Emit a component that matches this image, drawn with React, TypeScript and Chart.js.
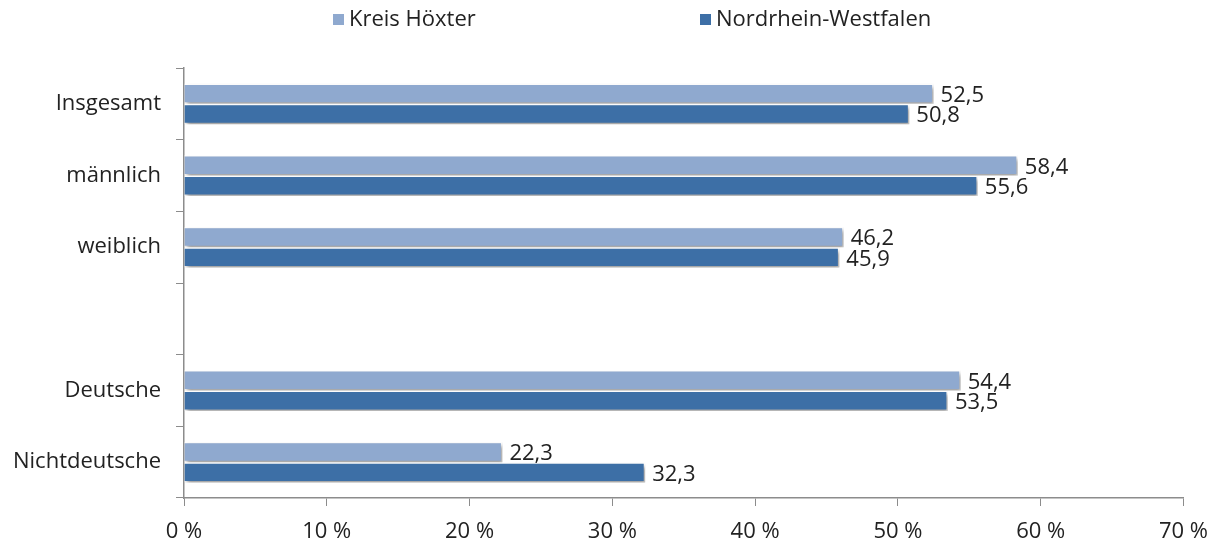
import React, { useEffect, useRef } from "react";
import { Chart, registerables } from "chart.js";

Chart.register(...registerables);

const categories = ["Insgesamt", "männlich", "weiblich", "", "Deutsche", "Nichtdeutsche"];
const kreisHoexter: (number | null)[] = [52.5, 58.4, 46.2, null, 54.4, 22.3];
const nrw: (number | null)[] = [50.8, 55.6, 45.9, null, 53.5, 32.3];
const seriesNames = ["Kreis Höxter", "Nordrhein-Westfalen"];
const xTicks = [0, 10, 20, 30, 40, 50, 60, 70];

const LIGHT = "#8FA9CF";
const DARK = "#3D6FA6";
const FONT = "'Open Sans', sans-serif";
const FS = 22;
const TEXT = "#222222";
const AXIS = "#8c8c8c";

export default function App() {
  const ref = useRef<HTMLCanvasElement | null>(null);

  useEffect(() => {
    if (!ref.current) return;

    const shadowPlugin = {
      id: "shadowAndLabels",
      beforeDatasetsDraw(chart: any) {
        const ctx = chart.ctx;
        ctx.save();
        ctx.shadowColor = "rgba(0,0,0,0.38)";
        ctx.shadowBlur = 4;
        ctx.shadowOffsetX = 2;
        ctx.shadowOffsetY = 3;
      },
      afterDatasetsDraw(chart: any) {
        const ctx = chart.ctx;
        ctx.restore();
        ctx.save();
        ctx.font = `${FS}px ${FONT}`;
        ctx.fillStyle = TEXT;
        ctx.textAlign = "left";
        ctx.textBaseline = "middle";
        chart.data.datasets.forEach((ds: any, di: number) => {
          const meta = chart.getDatasetMeta(di);
          meta.data.forEach((el: any, i: number) => {
            const v = ds.data[i];
            if (v === null || v === undefined) return;
            ctx.fillText(v.toFixed(1).replace(".", ","), el.x + 7, el.y + 2);
          });
        });
        ctx.restore();
      },
    };

    const legendPlugin = {
      id: "customLegend",
      afterDraw(chart: any) {
        const ctx = chart.ctx;
        ctx.save();
        ctx.font = `${FS}px ${FONT}`;
        ctx.fillStyle = TEXT;
        ctx.textBaseline = "middle";
        ctx.textAlign = "left";
        const items = [
          { x: 333, color: LIGHT, text: seriesNames[0] },
          { x: 700, color: DARK, text: seriesNames[1] },
        ];
        items.forEach((it) => {
          ctx.fillStyle = it.color;
          ctx.fillRect(it.x, 14, 11, 11);
          ctx.fillStyle = TEXT;
          ctx.fillText(it.text, it.x + 16, 20);
        });
        ctx.restore();
      },
    };

    const chart = new Chart(ref.current, {
      type: "bar",
      data: {
        labels: categories,
        datasets: [
          {
            label: seriesNames[0],
            data: kreisHoexter,
            backgroundColor: LIGHT,
            borderColor: "#ffffff",
            borderWidth: 1.5,
            categoryPercentage: 0.57,
            barPercentage: 1,
          },
          {
            label: seriesNames[1],
            data: nrw,
            backgroundColor: DARK,
            borderColor: "#ffffff",
            borderWidth: 1.5,
            categoryPercentage: 0.57,
            barPercentage: 1,
          },
        ],
      },
      options: {
        indexAxis: "y",
        animation: false,
        responsive: true,
        maintainAspectRatio: false,
        layout: { padding: { top: 68, right: 37, left: 0, bottom: 0 } },
        plugins: {
          legend: { display: false },
          tooltip: { enabled: false },
        },
        scales: {
          x: {
            min: 0,
            max: 70,
            afterBuildTicks(scale: any) {
              scale.ticks = xTicks.map((v) => ({ value: v }));
            },
            afterFit(scale: any) {
              scale.height = 46;
            },
            ticks: {
              callback: (v: any) => `${v} %`,
              font: { family: FONT, size: FS },
              color: TEXT,
              padding: 13,
              maxRotation: 0,
            },
            grid: {
              drawOnChartArea: false,
              drawTicks: true,
              tickLength: 8,
              color: AXIS,
            },
            border: { color: AXIS, width: 1.5 },
          },
          y: {
            afterFit(scale: any) {
              scale.width = 184;
            },
            ticks: {
              font: { family: FONT, size: FS },
              color: TEXT,
              padding: 15,
            },
            grid: {
              drawOnChartArea: false,
              drawTicks: true,
              tickLength: 8,
              color: AXIS,
              offset: true,
            },
            border: { color: AXIS, width: 1.5 },
          },
        },
      },
      plugins: [shadowPlugin, legendPlugin],
    } as any);

    return () => chart.destroy();
  }, []);

  return (
    <div style={{ position: "absolute", left: 0, top: 0, width: 1221, height: 544, background: "#fff" }}>
      <canvas ref={ref} />
    </div>
  );
}
